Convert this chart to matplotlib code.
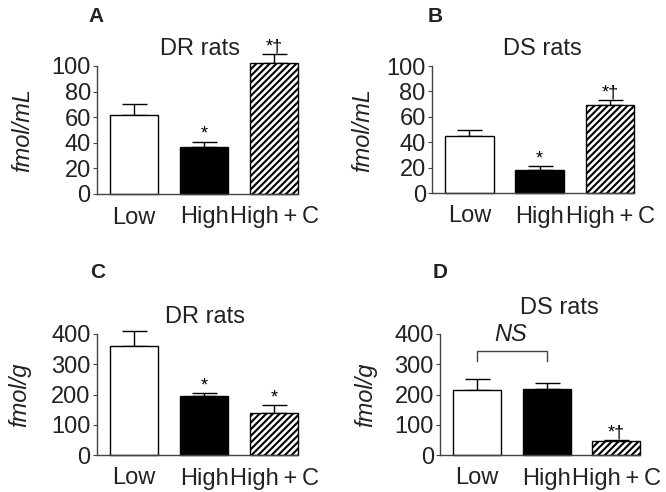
import numpy as np
import matplotlib
matplotlib.use('Agg')
import matplotlib.pyplot as plt

plt.rcParams['font.family'] = ['Liberation Sans', 'DejaVu Sans']
plt.rcParams['hatch.linewidth'] = 1.5

groups = ['Low', 'High', 'High\u2009+\u2009C']

# plasma (fmol/mL) and tissue (fmol/g), means and upper error
dr_plasma = [62, 37, 102]
dr_plasma_err = [8, 4, 7]
ds_plasma = [45, 18, 69]
ds_plasma_err = [5, 3, 4]
dr_tissue = [360, 195, 138]
dr_tissue_err = [50, 9, 26]
ds_tissue = [216, 218, 46]
ds_tissue_err = [35, 19, 4]

marks_dr_plasma = ['', '*', '*†']
marks_ds_plasma = ['', '*', '*†']
marks_dr_tissue = ['', '*', '*']
marks_ds_tissue = ['', '', '*†']

W, H = 666, 492
fig = plt.figure(figsize=(W / 100, H / 100), dpi=100)

def px_axes(l, r, b, t):
    return fig.add_axes([l / W, 1 - b / H, (r - l) / W, (b - t) / H])

panels = [
    # letter, title, ylabel, vals, errs, marks, ymax, yticks, box, title pos, ylabel x, letter pos
    ('A', 'DR rats', 'fmol/mL', dr_plasma, dr_plasma_err, marks_dr_plasma, 100,
     np.arange(0, 101, 20), (97, 298, 194, 66), (0.512, 1.086), -0.37, (88, 22)),
    ('B', 'DS rats', 'fmol/mL', ds_plasma, ds_plasma_err, marks_ds_plasma, 100,
     np.arange(0, 101, 20), (432, 634, 193, 66), (0.545, 1.087), -0.345, (428, 22)),
    ('C', 'DR rats', 'fmol/g', dr_tissue, dr_tissue_err, marks_dr_tissue, 400,
     np.arange(0, 401, 100), (97, 298, 455, 334), (0.537, 1.09), -0.385, (90, 278)),
    ('D', 'DS rats', 'fmol/g', ds_tissue, ds_tissue_err, marks_ds_tissue, 400,
     np.arange(0, 401, 100), (440, 640, 455, 334), (0.595, 1.165), -0.37, (433, 278)),
]

x = np.arange(len(groups))
faces = ['white', 'black', 'white']
hatches = ['', '', '/////']

for letter, title, ylab, vals, errs, marks, ymax, yt, box, tpos, ylx, lpos in panels:
    ax = px_axes(*box)
    ax.bar(x, vals, width=0.69, color=faces, edgecolor='black', linewidth=1.0,
           hatch=hatches, zorder=2, clip_on=False)
    ax.errorbar(x, vals, yerr=[np.zeros(3), errs], fmt='none', ecolor='black',
                elinewidth=1.0, capsize=9, capthick=1.0, zorder=1, clip_on=False)
    for xi, v, e, m in zip(x, vals, errs, marks):
        if m:
            ax.annotate(m, (xi, v + e), xytext=(0, 2), textcoords='offset points',
                        ha='center', va='baseline', fontsize=13, annotation_clip=False)
    ax.set_xlim(-0.53, 2.34)
    ax.set_ylim(0, ymax)
    ax.set_yticks(yt)
    ax.set_xticks(x)
    ax.set_xticklabels(groups)
    ax.spines['top'].set_visible(False)
    ax.spines['right'].set_visible(False)
    for s in ['left', 'bottom']:
        ax.spines[s].set_color('#444444')
        ax.spines[s].set_linewidth(1.0)
    ax.tick_params(axis='y', length=3, width=0.8, color='#444444', pad=1.5,
                   labelsize=17, labelcolor='#222222')
    ax.tick_params(axis='x', length=0, pad=9, labelsize=17, labelcolor='#222222')
    ax.text(tpos[0], tpos[1], title, transform=ax.transAxes, ha='center',
            va='baseline', fontsize=17, color='#222222')
    ax.text(ylx, 0.5, ylab, transform=ax.transAxes, rotation=90, ha='center',
            va='center', fontsize=17, style='italic', color='#222222')
    fig.text(lpos[0] / W, 1 - lpos[1] / H, letter, ha='left', va='baseline',
             fontsize=15, fontweight='bold', color='#222222')
    if letter == 'D':
        ax.plot([0, 0, 1, 1], [312, 345, 345, 312], color='#444444', lw=1.0,
                clip_on=False)
        ax.text(0.48, 377, 'NS', ha='center', va='baseline', fontsize=17,
                style='italic', color='#222222')

fig.savefig('out.png', dpi=100)
